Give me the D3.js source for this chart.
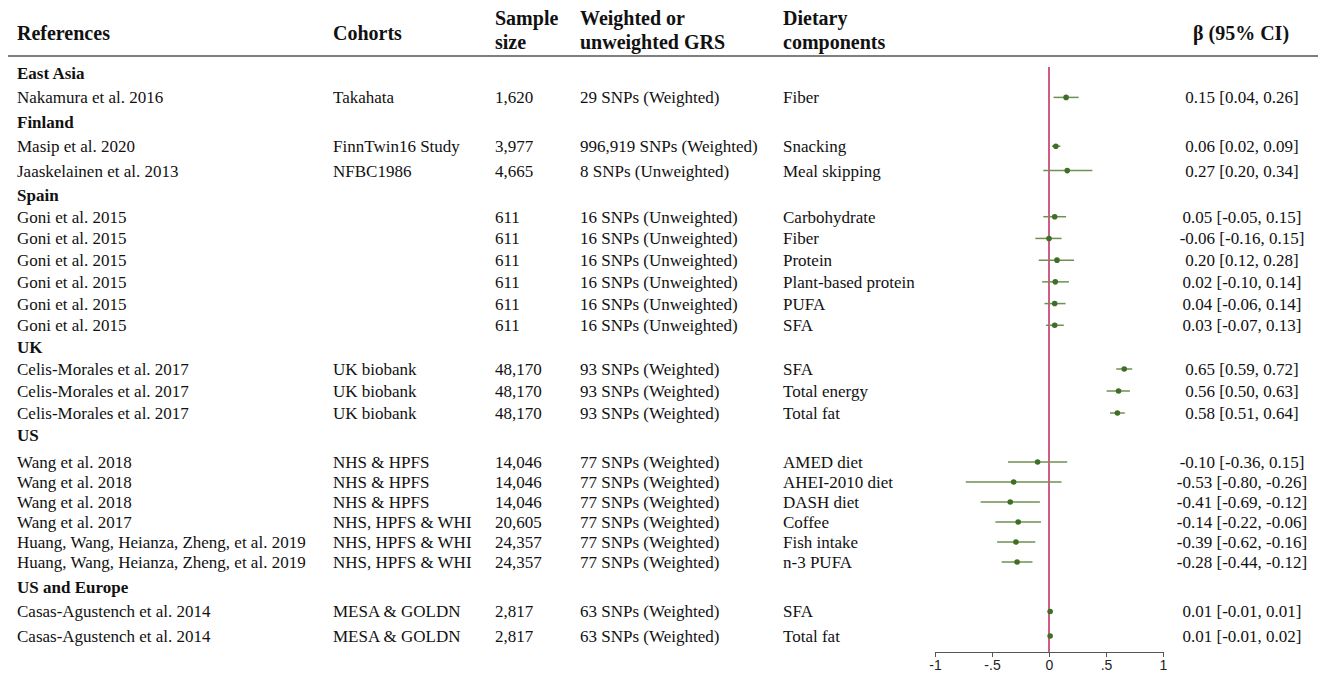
<!DOCTYPE html>
<html>
<head>
<meta charset="utf-8">
<script src="https://cdn.jsdelivr.net/npm/d3@7"></script>
<style>
  body { margin: 0; background: #fff; }
  svg text { font-family: "Liberation Serif", "Times New Roman", serif; fill: #111; }
  .axis text { font-family: "Liberation Sans", Arial, sans-serif; font-size: 14px; fill: #222; }
  .axis path, .axis line { stroke: #555; }
</style>
</head>
<body>
<svg id="chart" width="1324" height="676"></svg>
<script>
// regions (group headers) and the studies that belong to them
let regions = ["East Asia", "Finland", "Spain", "UK", "US", "US and Europe"];

let studyRegion = ["East Asia", "Finland", "Finland", "Spain", "Spain", "Spain", "Spain", "Spain", "Spain",
  "UK", "UK", "UK", "US", "US", "US", "US", "US", "US", "US and Europe", "US and Europe"];

let references = ["Nakamura et al. 2016", "Masip et al. 2020", "Jaaskelainen et al. 2013",
  "Goni et al. 2015", "Goni et al. 2015", "Goni et al. 2015", "Goni et al. 2015", "Goni et al. 2015", "Goni et al. 2015",
  "Celis-Morales et al. 2017", "Celis-Morales et al. 2017", "Celis-Morales et al. 2017",
  "Wang et al. 2018", "Wang et al. 2018", "Wang et al. 2018", "Wang et al. 2017",
  "Huang, Wang, Heianza, Zheng, et al. 2019", "Huang, Wang, Heianza, Zheng, et al. 2019",
  "Casas-Agustench et al. 2014", "Casas-Agustench et al. 2014"];

let cohorts = ["Takahata", "FinnTwin16 Study", "NFBC1986", "", "", "", "", "", "",
  "UK biobank", "UK biobank", "UK biobank", "NHS & HPFS", "NHS & HPFS", "NHS & HPFS",
  "NHS, HPFS & WHI", "NHS, HPFS & WHI", "NHS, HPFS & WHI", "MESA & GOLDN", "MESA & GOLDN"];

let sampleSizes = ["1,620", "3,977", "4,665", "611", "611", "611", "611", "611", "611",
  "48,170", "48,170", "48,170", "14,046", "14,046", "14,046", "20,605", "24,357", "24,357", "2,817", "2,817"];

let grs = ["29 SNPs (Weighted)", "996,919 SNPs (Weighted)", "8 SNPs (Unweighted)",
  "16 SNPs (Unweighted)", "16 SNPs (Unweighted)", "16 SNPs (Unweighted)", "16 SNPs (Unweighted)", "16 SNPs (Unweighted)", "16 SNPs (Unweighted)",
  "93 SNPs (Weighted)", "93 SNPs (Weighted)", "93 SNPs (Weighted)",
  "77 SNPs (Weighted)", "77 SNPs (Weighted)", "77 SNPs (Weighted)", "77 SNPs (Weighted)", "77 SNPs (Weighted)", "77 SNPs (Weighted)",
  "63 SNPs (Weighted)", "63 SNPs (Weighted)"];

let components = ["Fiber", "Snacking", "Meal skipping", "Carbohydrate", "Fiber", "Protein", "Plant-based protein",
  "PUFA", "SFA", "SFA", "Total energy", "Total fat", "AMED diet", "AHEI-2010 diet", "DASH diet",
  "Coffee", "Fish intake", "n-3 PUFA", "SFA", "Total fat"];

let ciLabels = ["0.15 [0.04, 0.26]", "0.06 [0.02, 0.09]", "0.27 [0.20, 0.34]",
  "0.05 [-0.05, 0.15]", "-0.06 [-0.16, 0.15]", "0.20 [0.12, 0.28]", "0.02 [-0.10, 0.14]",
  "0.04 [-0.06, 0.14]", "0.03 [-0.07, 0.13]", "0.65 [0.59, 0.72]", "0.56 [0.50, 0.63]",
  "0.58 [0.51, 0.64]", "-0.10 [-0.36, 0.15]", "-0.53 [-0.80, -0.26]", "-0.41 [-0.69, -0.12]",
  "-0.14 [-0.22, -0.06]", "-0.39 [-0.62, -0.16]", "-0.28 [-0.44, -0.12]",
  "0.01 [-0.01, 0.01]", "0.01 [-0.01, 0.02]"];

// plotted positions, as drawn in the figure
let estimates = [0.15, 0.06, 0.16, 0.05, 0.00, 0.07, 0.055, 0.05, 0.05, 0.66, 0.61, 0.60,
  -0.10, -0.31, -0.34, -0.27, -0.29, -0.28, 0.01, 0.01];
let lower = [0.04, 0.025, -0.05, -0.05, -0.12, -0.09, -0.06, -0.04, -0.025, 0.59, 0.505, 0.535,
  -0.36, -0.73, -0.60, -0.47, -0.455, -0.415, 0.005, 0.005];
let upper = [0.26, 0.10, 0.38, 0.15, 0.11, 0.22, 0.175, 0.145, 0.13, 0.73, 0.71, 0.665,
  0.16, 0.11, -0.08, -0.07, -0.12, -0.145, 0.015, 0.015];

let xTicks = [-1, -0.5, 0, 0.5, 1];

// build the row list: region header followed by its studies
let rows = [];
regions.forEach(r => {
  rows.push({type: "group", label: r});
  studyRegion.forEach((sr, i) => { if (sr === r) rows.push({type: "study", i: i}); });
});
rows = rows.map((r, k) => ({...r, k}));

let svg = d3.select("#chart");

// row spacing in the original is a little uneven, so pin the scale at the group headers
let yScale = d3.scaleLinear()
  .domain([0, 5, 12, 16, 17, 22, 23, 25])
  .range([73, 195, 347, 435, 462, 562, 587, 636]);
let xScale = d3.scaleLinear().domain([-1, 1]).range([935, 1163]);
let axisY = 652;
let FS = "17px";

let cols = [
  {x: 17, get: i => references[i]},
  {x: 333, get: i => cohorts[i]},
  {x: 495, get: i => sampleSizes[i]},
  {x: 580, get: i => grs[i]},
  {x: 783, get: i => components[i]}
];

// header
let header = svg.append("g").attr("font-weight", "bold").style("font-size", "20px");
header.append("text").attr("x", 17).attr("y", 40).text("References");
header.append("text").attr("x", 333).attr("y", 40).text("Cohorts");
header.append("text").attr("x", 495).attr("y", 25).text("Sample");
header.append("text").attr("x", 495).attr("y", 49).text("size");
header.append("text").attr("x", 580).attr("y", 25).text("Weighted or");
header.append("text").attr("x", 580).attr("y", 49).text("unweighted GRS");
header.append("text").attr("x", 783).attr("y", 25).text("Dietary");
header.append("text").attr("x", 783).attr("y", 49).text("components");
header.append("text").attr("x", 1241).attr("y", 40).attr("text-anchor", "middle").text("β (95% CI)");

svg.append("line")
  .attr("x1", 8).attr("x2", 1318).attr("y1", 56).attr("y2", 56)
  .attr("stroke", "#555").attr("stroke-width", 1.5);

// group labels
svg.append("g").selectAll("text")
  .data(rows.filter(r => r.type === "group"))
  .join("text")
  .attr("x", 17).attr("y", d => yScale(d.k)).attr("dy", "0.35em")
  .attr("font-weight", "bold").style("font-size", FS)
  .text(d => d.label);

let studyRows = rows.filter(r => r.type === "study");

// table columns
cols.forEach(c => {
  svg.append("g").selectAll("text")
    .data(studyRows)
    .join("text")
    .attr("x", c.x).attr("y", d => yScale(d.k)).attr("dy", "0.35em")
    .style("font-size", FS)
    .text(d => c.get(d.i));
});

svg.append("g").selectAll("text")
  .data(studyRows)
  .join("text")
  .attr("x", 1242).attr("y", d => yScale(d.k)).attr("dy", "0.35em")
  .attr("text-anchor", "middle")
  .style("font-size", FS)
  .text(d => ciLabels[d.i]);

// reference line at zero
svg.append("line")
  .attr("x1", xScale(0)).attr("x2", xScale(0))
  .attr("y1", 67).attr("y2", axisY)
  .attr("stroke", "#cc4a78").attr("stroke-width", 1.8);

// confidence intervals
svg.append("g").selectAll("line")
  .data(studyRows)
  .join("line")
  .attr("x1", d => xScale(lower[d.i])).attr("x2", d => xScale(upper[d.i]))
  .attr("y1", d => yScale(d.k)).attr("y2", d => yScale(d.k))
  .attr("stroke", "#6f8f55").attr("stroke-width", 1.5);

svg.append("g").selectAll("circle")
  .data(studyRows)
  .join("circle")
  .attr("cx", d => xScale(estimates[d.i]))
  .attr("cy", d => yScale(d.k))
  .attr("r", 2.8)
  .attr("fill", "#3f6e26");

// x axis, stata style labels (-1, -.5, 0, .5, 1)
svg.append("g")
  .attr("class", "axis")
  .attr("transform", `translate(0,${axisY})`)
  .call(d3.axisBottom(xScale)
    .tickValues(xTicks)
    .tickSize(5)
    .tickPadding(3)
    .tickFormat(d => String(d).replace("0.", ".")));
</script>
</body>
</html>
